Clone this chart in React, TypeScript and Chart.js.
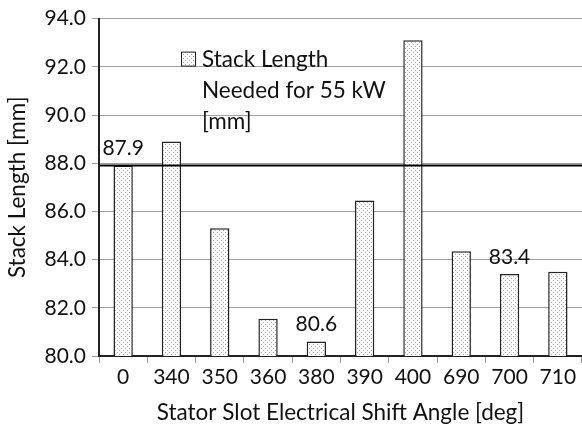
import React, { useEffect, useRef } from 'react';
import { Chart, registerables } from 'chart.js';

Chart.register(...registerables);

const categories = ['0', '340', '350', '360', '380', '390', '400', '690', '700', '710'];
const stackLength = [87.9, 88.9, 85.3, 81.55, 80.6, 86.45, 93.1, 84.35, 83.4, 83.5];
const referenceValue = 87.9;
const annotatedIndices = [0, 4, 8];
const annotationTexts = ['87.9', '80.6', '83.4'];
const legendLines = ['Stack Length', 'Needed for 55 kW', '[mm]'];
const yMin = 80;
const yMax = 94;
const yStep = 2;
const xTitle = 'Stator Slot Electrical Shift Angle [deg]';
const yTitle = 'Stack Length [mm]';

const FONT_FAMILY = 'Lato';
const NUM_SIZE = 21;
const TEXT_SIZE = 22.5;
const TEXT_COLOR = '#111';

function makePattern(ctx: CanvasRenderingContext2D): CanvasPattern | string {
  const c = document.createElement('canvas');
  c.width = 4;
  c.height = 4;
  const g = c.getContext('2d');
  if (!g) return '#eee';
  g.fillStyle = '#ffffff';
  g.fillRect(0, 0, 4, 4);
  g.fillStyle = '#a6a6a6';
  g.fillRect(1, 0, 1, 1);
  g.fillRect(3, 2, 1, 1);
  return ctx.createPattern(c, 'repeat') || '#eee';
}

export default function App() {
  const canvasRef = useRef<HTMLCanvasElement | null>(null);

  useEffect(() => {
    const canvas = canvasRef.current;
    if (!canvas) return;
    const ctx = canvas.getContext('2d');
    if (!ctx) return;
    const pattern = makePattern(ctx);

    const overlayPlugin = {
      id: 'overlay',
      afterDatasetsDraw(chart: any) {
        const c = chart.ctx as CanvasRenderingContext2D;
        const area = chart.chartArea;
        const y = chart.scales.y;
        // reference line
        const ry = y.getPixelForValue(referenceValue);
        c.save();
        c.strokeStyle = '#000';
        c.lineWidth = 2;
        c.beginPath();
        c.moveTo(area.left + 1, ry);
        c.lineTo(area.right, ry);
        c.stroke();
        // value annotations
        const meta = chart.getDatasetMeta(0);
        c.font = `${NUM_SIZE}px ${FONT_FAMILY}`;
        c.fillStyle = TEXT_COLOR;
        c.textAlign = 'center';
        c.textBaseline = 'middle';
        annotatedIndices.forEach((idx, k) => {
          const el = meta.data[idx];
          c.fillText(annotationTexts[k], el.x, el.y - 17);
        });
        // legend
        const bx = area.left + 82;
        const by = area.top + 33;
        c.fillStyle = pattern as any;
        c.fillRect(bx, by, 14, 14);
        c.strokeStyle = '#222';
        c.lineWidth = 1;
        c.strokeRect(bx + 0.5, by + 0.5, 14, 14);
        c.fillStyle = TEXT_COLOR;
        c.textAlign = 'left';
        c.font = `${TEXT_SIZE}px ${FONT_FAMILY}`;
        legendLines.forEach((line, i) => {
          c.fillText(line, bx + 21, by + 8 + i * 31);
        });
        c.restore();
      },
    };

    const chart = new Chart(ctx, {
      type: 'bar',
      data: {
        labels: categories,
        datasets: [
          {
            label: legendLines.join(' '),
            data: stackLength,
            backgroundColor: pattern as any,
            borderColor: '#222',
            borderWidth: 1.5,
            barPercentage: 0.4,
            categoryPercentage: 1,
          },
        ],
      },
      options: {
        responsive: false,
        animation: false,
        layout: { padding: { top: 15, right: 0, left: 0, bottom: 0 } },
        plugins: {
          legend: { display: false },
          tooltip: { enabled: false },
        },
        scales: {
          x: {
            grid: {
              offset: true,
              drawOnChartArea: false,
              drawTicks: true,
              tickLength: 7,
              color: '#999',
            },
            border: { color: '#222', width: 2 },
            ticks: {
              font: { family: FONT_FAMILY, size: NUM_SIZE },
              color: TEXT_COLOR,
              padding: 2,
              maxRotation: 0,
            },
            title: {
              display: true,
              text: xTitle,
              font: { family: FONT_FAMILY, size: TEXT_SIZE },
              color: TEXT_COLOR,
              padding: { top: 0, bottom: 2 },
            },
            afterFit: (scale: any) => {
              scale.height = 72;
            },
          },
          y: {
            min: yMin,
            max: yMax,
            grid: { color: '#a0a0a0', tickLength: 7 },
            border: { color: '#222', width: 2 },
            ticks: {
              stepSize: yStep,
              font: { family: FONT_FAMILY, size: NUM_SIZE },
              color: TEXT_COLOR,
              padding: 6,
              callback: (v: any) => Number(v).toFixed(1),
            },
            title: {
              display: true,
              text: yTitle,
              font: { family: FONT_FAMILY, size: TEXT_SIZE },
              color: TEXT_COLOR,
              padding: { top: 4, bottom: 0 },
            },
            afterFit: (scale: any) => {
              scale.width = 99;
            },
          },
        },
      },
      plugins: [overlayPlugin],
    });

    return () => {
      chart.destroy();
    };
  }, []);

  return (
    <div style={{ position: 'fixed', left: 0, top: 0, width: 582, height: 428, background: '#fff' }}>
      <canvas ref={canvasRef} width={582} height={428} />
    </div>
  );
}
